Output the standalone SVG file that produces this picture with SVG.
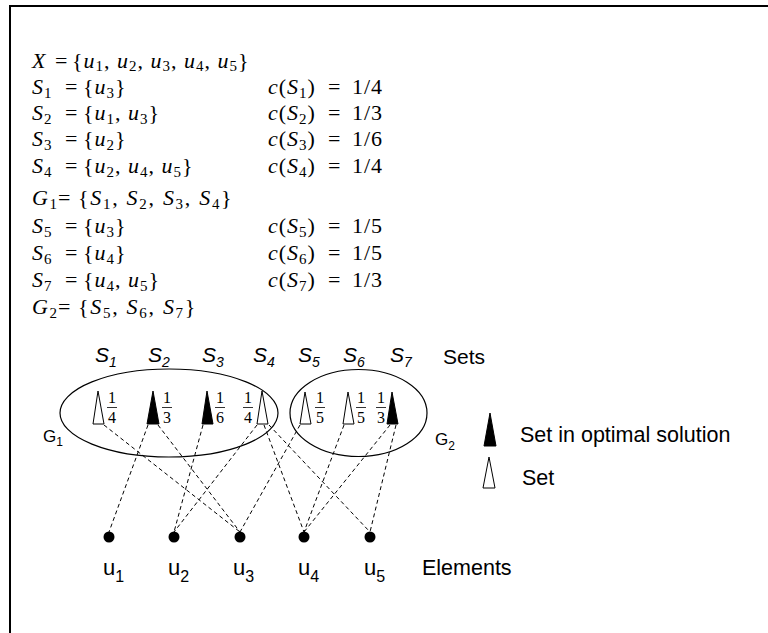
<svg xmlns="http://www.w3.org/2000/svg" width="768" height="633" viewBox="0 0 768 633">
<style>
.m{font-family:"Liberation Serif","Times New Roman",serif;font-size:22px;letter-spacing:1px;fill:#000}
.g{letter-spacing:1.7px}
.i{font-style:italic}
.sb{font-size:15px;font-style:normal}
.fr{font-family:"Liberation Serif","Times New Roman",serif;font-size:16px;text-anchor:middle;fill:#000}
.h{font-family:"Liberation Sans",Arial,sans-serif;fill:#000}
.lbl{font-size:21px;font-style:italic}
.ls{font-size:14px}
.con line{stroke:#000;stroke-width:1;stroke-dasharray:4 3}
.hol{fill:#fff;stroke:#000;stroke-width:1}
.fil{fill:#000;stroke:#000;stroke-width:1}
.grp{fill:none;stroke:#000;stroke-width:1.2}
.bar{stroke:#000;stroke-width:0.8}
</style>
<path d="M10,633 V6 H768" fill="none" stroke="#000" stroke-width="2"/>
<g id="definitions">
<text class="m" y="68" letter-spacing="0.8"><tspan x="32" class="i">X</tspan><tspan x="55">=</tspan><tspan x="72">{</tspan><tspan class="i">u</tspan><tspan class="sb" dy="3">1</tspan><tspan dy="-3">, </tspan><tspan class="i">u</tspan><tspan class="sb" dy="3">2</tspan><tspan dy="-3">, </tspan><tspan class="i">u</tspan><tspan class="sb" dy="3">3</tspan><tspan dy="-3">, </tspan><tspan class="i">u</tspan><tspan class="sb" dy="3">4</tspan><tspan dy="-3">, </tspan><tspan class="i">u</tspan><tspan class="sb" dy="3">5</tspan><tspan dy="-3">}</tspan></text>
<text class="m" y="94"><tspan x="32" class="i">S</tspan><tspan class="sb" dy="4">1</tspan><tspan x="65" dy="-4">=</tspan><tspan x="83">{</tspan><tspan class="i">u</tspan><tspan class="sb" dy="4">3</tspan><tspan dy="-4">}</tspan><tspan x="268" class="i">c</tspan><tspan>(</tspan><tspan class="i">S</tspan><tspan class="sb" dy="4">1</tspan><tspan dy="-4">)</tspan><tspan x="328">=</tspan><tspan x="352">1/4</tspan></text>
<text class="m" y="120"><tspan x="32" class="i">S</tspan><tspan class="sb" dy="4">2</tspan><tspan x="65" dy="-4">=</tspan><tspan x="83">{</tspan><tspan class="i">u</tspan><tspan class="sb" dy="4">1</tspan><tspan dy="-4">, </tspan><tspan class="i">u</tspan><tspan class="sb" dy="4">3</tspan><tspan dy="-4">}</tspan><tspan x="268" class="i">c</tspan><tspan>(</tspan><tspan class="i">S</tspan><tspan class="sb" dy="4">2</tspan><tspan dy="-4">)</tspan><tspan x="328">=</tspan><tspan x="352">1/3</tspan></text>
<text class="m" y="146"><tspan x="32" class="i">S</tspan><tspan class="sb" dy="4">3</tspan><tspan x="65" dy="-4">=</tspan><tspan x="83">{</tspan><tspan class="i">u</tspan><tspan class="sb" dy="4">2</tspan><tspan dy="-4">}</tspan><tspan x="268" class="i">c</tspan><tspan>(</tspan><tspan class="i">S</tspan><tspan class="sb" dy="4">3</tspan><tspan dy="-4">)</tspan><tspan x="328">=</tspan><tspan x="352">1/6</tspan></text>
<text class="m" y="173"><tspan x="32" class="i">S</tspan><tspan class="sb" dy="4">4</tspan><tspan x="65" dy="-4">=</tspan><tspan x="83">{</tspan><tspan class="i">u</tspan><tspan class="sb" dy="4">2</tspan><tspan dy="-4">, </tspan><tspan class="i">u</tspan><tspan class="sb" dy="4">4</tspan><tspan dy="-4">, </tspan><tspan class="i">u</tspan><tspan class="sb" dy="4">5</tspan><tspan dy="-4">}</tspan><tspan x="268" class="i">c</tspan><tspan>(</tspan><tspan class="i">S</tspan><tspan class="sb" dy="4">4</tspan><tspan dy="-4">)</tspan><tspan x="328">=</tspan><tspan x="352">1/4</tspan></text>
<text class="m g" y="205"><tspan x="32" class="i">G</tspan><tspan class="sb" dy="4">1</tspan><tspan x="58" dy="-4">=</tspan><tspan x="78">{</tspan><tspan class="i">S</tspan><tspan class="sb" dy="4">1</tspan><tspan dy="-4">, </tspan><tspan class="i">S</tspan><tspan class="sb" dy="4">2</tspan><tspan dy="-4">, </tspan><tspan class="i">S</tspan><tspan class="sb" dy="4">3</tspan><tspan dy="-4">, </tspan><tspan class="i">S</tspan><tspan class="sb" dy="4">4</tspan><tspan dy="-4">}</tspan></text>
<text class="m" y="233"><tspan x="32" class="i">S</tspan><tspan class="sb" dy="4">5</tspan><tspan x="65" dy="-4">=</tspan><tspan x="83">{</tspan><tspan class="i">u</tspan><tspan class="sb" dy="4">3</tspan><tspan dy="-4">}</tspan><tspan x="268" class="i">c</tspan><tspan>(</tspan><tspan class="i">S</tspan><tspan class="sb" dy="4">5</tspan><tspan dy="-4">)</tspan><tspan x="328">=</tspan><tspan x="352">1/5</tspan></text>
<text class="m" y="260"><tspan x="32" class="i">S</tspan><tspan class="sb" dy="4">6</tspan><tspan x="65" dy="-4">=</tspan><tspan x="83">{</tspan><tspan class="i">u</tspan><tspan class="sb" dy="4">4</tspan><tspan dy="-4">}</tspan><tspan x="268" class="i">c</tspan><tspan>(</tspan><tspan class="i">S</tspan><tspan class="sb" dy="4">6</tspan><tspan dy="-4">)</tspan><tspan x="328">=</tspan><tspan x="352">1/5</tspan></text>
<text class="m" y="287"><tspan x="32" class="i">S</tspan><tspan class="sb" dy="4">7</tspan><tspan x="65" dy="-4">=</tspan><tspan x="83">{</tspan><tspan class="i">u</tspan><tspan class="sb" dy="4">4</tspan><tspan dy="-4">, </tspan><tspan class="i">u</tspan><tspan class="sb" dy="4">5</tspan><tspan dy="-4">}</tspan><tspan x="268" class="i">c</tspan><tspan>(</tspan><tspan class="i">S</tspan><tspan class="sb" dy="4">7</tspan><tspan dy="-4">)</tspan><tspan x="328">=</tspan><tspan x="352">1/3</tspan></text>
<text class="m g" y="314"><tspan x="32" class="i">G</tspan><tspan class="sb" dy="4">2</tspan><tspan x="58" dy="-4">=</tspan><tspan x="78">{</tspan><tspan class="i">S</tspan><tspan class="sb" dy="4">5</tspan><tspan dy="-4">, </tspan><tspan class="i">S</tspan><tspan class="sb" dy="4">6</tspan><tspan dy="-4">, </tspan><tspan class="i">S</tspan><tspan class="sb" dy="4">7</tspan><tspan dy="-4">}</tspan></text>
</g>
<g id="G1">
<ellipse class="grp" cx="169" cy="413" rx="109" ry="44"/>
<text class="h" font-size="17" x="43" y="442">G<tspan font-size="12" dy="4">1</tspan></text>
</g>
<g id="G2">
<ellipse class="grp" cx="358.5" cy="413" rx="68.5" ry="43.5"/>
<text class="h" font-size="17" x="435" y="445">G<tspan font-size="12" dy="5">2</tspan></text>
</g>
<g class="con" id="connectors">
<line x1="104" y1="425" x2="240" y2="532"/>
<line x1="148" y1="425" x2="109" y2="532"/>
<line x1="158" y1="425" x2="240" y2="532"/>
<line x1="203" y1="425" x2="174" y2="532"/>
<line x1="257" y1="425" x2="174" y2="532"/>
<line x1="264" y1="425" x2="304" y2="532"/>
<line x1="269" y1="425" x2="370" y2="532"/>
<line x1="300" y1="425" x2="240" y2="532"/>
<line x1="344" y1="425" x2="304" y2="532"/>
<line x1="390" y1="425" x2="304" y2="532"/>
<line x1="396" y1="425" x2="370" y2="532"/>
</g>
<g id="S1">
<text class="h lbl" x="95" y="362">S<tspan class="ls" dy="5">1</tspan></text>
<polygon class="hol" points="98,391 93,424 104,424"/>
<text class="fr" x="112" y="403">1</text><line class="bar" x1="107" y1="407.5" x2="117" y2="407.5"/><text class="fr" x="112" y="423">4</text>
</g>
<g id="S2">
<text class="h lbl" x="148" y="362">S<tspan class="ls" dy="5">2</tspan></text>
<polygon class="fil" points="153,391 147,424 159,424"/>
<text class="fr" x="167" y="403">1</text><line class="bar" x1="162" y1="407.5" x2="172" y2="407.5"/><text class="fr" x="167" y="423">3</text>
</g>
<g id="S3">
<text class="h lbl" x="202" y="362">S<tspan class="ls" dy="5">3</tspan></text>
<polygon class="fil" points="207,391 202,424 213,424"/>
<text class="fr" x="220" y="403">1</text><line class="bar" x1="215" y1="407.5" x2="225" y2="407.5"/><text class="fr" x="220" y="423">6</text>
</g>
<g id="S4">
<text class="h lbl" x="253" y="362">S<tspan class="ls" dy="5">4</tspan></text>
<polygon class="hol" points="262,391 257,424 268,424"/>
<text class="fr" x="248" y="403">1</text><line class="bar" x1="243" y1="407.5" x2="253" y2="407.5"/><text class="fr" x="248" y="423">4</text>
</g>
<g id="S5">
<text class="h lbl" x="298" y="362">S<tspan class="ls" dy="5">5</tspan></text>
<polygon class="hol" points="305,392 300,424 311,424"/>
<text class="fr" x="320" y="403">1</text><line class="bar" x1="315" y1="407.5" x2="325" y2="407.5"/><text class="fr" x="320" y="423">5</text>
</g>
<g id="S6">
<text class="h lbl" x="343" y="362">S<tspan class="ls" dy="5">6</tspan></text>
<polygon class="hol" points="348,392 343,424 354,424"/>
<text class="fr" x="361" y="403">1</text><line class="bar" x1="356" y1="407.5" x2="366" y2="407.5"/><text class="fr" x="361" y="423">5</text>
</g>
<g id="S7">
<text class="h lbl" x="390" y="362">S<tspan class="ls" dy="5">7</tspan></text>
<polygon class="fil" points="392,392 387,424 398,424"/>
<text class="fr" x="381" y="403">1</text><line class="bar" x1="376" y1="407.5" x2="386" y2="407.5"/><text class="fr" x="381" y="423">3</text>
</g>
<text class="h" font-size="21" x="443" y="364">Sets</text>
<g id="u1"><circle cx="109" cy="537" r="5.5"/><text class="h" font-size="22" x="103" y="575">u<tspan font-size="16" dy="7">1</tspan></text></g>
<g id="u2"><circle cx="174" cy="537" r="5.5"/><text class="h" font-size="22" x="168" y="575">u<tspan font-size="16" dy="7">2</tspan></text></g>
<g id="u3"><circle cx="240" cy="537" r="5.5"/><text class="h" font-size="22" x="233" y="575">u<tspan font-size="16" dy="7">3</tspan></text></g>
<g id="u4"><circle cx="304" cy="537" r="5.5"/><text class="h" font-size="22" x="298" y="575">u<tspan font-size="16" dy="7">4</tspan></text></g>
<g id="u5"><circle cx="370" cy="537" r="5.5"/><text class="h" font-size="22" x="364" y="575">u<tspan font-size="16" dy="7">5</tspan></text></g>
<text class="h" font-size="21.5" x="422" y="575">Elements</text>
<g id="legend">
<polygon class="fil" points="490,413 484,446 496,446"/>
<text class="h" font-size="21.5" x="520" y="442">Set in optimal solution</text>
<polygon class="hol" points="489,457 483,488 495,488"/>
<text class="h" font-size="21.5" x="522" y="485">Set</text>
</g>
</svg>
